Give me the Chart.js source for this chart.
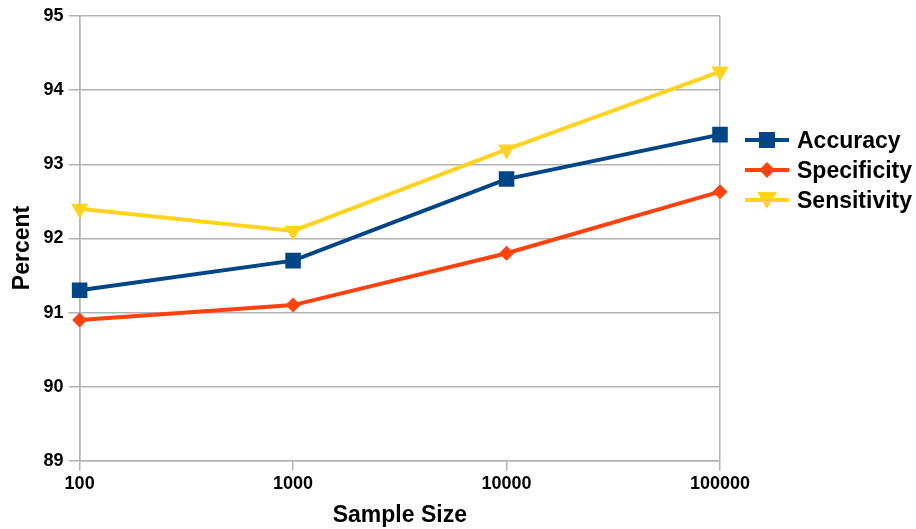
<!DOCTYPE html>
<html lang="en">
<head>
    <meta charset="UTF-8">
    <script src="https://cdn.jsdelivr.net/npm/chart.js"></script>
    <title>Sample Size</title>
    <style>
        body { margin: 0; background: #fff; }
        #wrap { position: relative; width: 916px; height: 529px; }
        #legend { position: absolute; left: 745px; top: 125px; font: bold 23px "Liberation Sans", Arial, sans-serif; color: #000; }
        #legend div { display: flex; align-items: center; height: 30px; }
        #legend svg { margin-right: 8px; }
    </style>
</head>
<body>
    <div id="wrap">
        <canvas id="chart"></canvas>
        <div id="legend"></div>
    </div>
    <script>
        // Datos
        const sampleSizes = ['100', '1000', '10000', '100000'];
        const accuracy = [91.3, 91.7, 92.8, 93.4];
        const specificity = [90.9, 91.1, 91.8, 92.63];
        const sensitivity = [92.4, 92.1, 93.2, 94.25];
        const seriesNames = ['Accuracy', 'Specificity', 'Sensitivity'];
        const seriesColors = ['#004586', '#ff420e', '#ffd320'];

        const gridColor = '#b3b3b3';
        const font = 'Liberation Sans';

        const styles = [
            { pointStyle: 'rect', pointRadius: 11, rotation: 0 },
            { pointStyle: 'rectRot', pointRadius: 7.5, rotation: 0 },
            { pointStyle: 'triangle', pointRadius: 10, rotation: 180 }
        ];

        const datasets = [accuracy, specificity, sensitivity].map((values, i) => ({
            label: seriesNames[i],
            data: values,
            borderColor: seriesColors[i],
            backgroundColor: seriesColors[i],
            borderWidth: 4,
            pointStyle: styles[i].pointStyle,
            pointRadius: styles[i].pointRadius,
            pointRotation: styles[i].rotation,
            pointBorderWidth: 0,
            pointHoverRadius: styles[i].pointRadius,
            tension: 0
        }));

        new Chart(document.getElementById('chart'), {
            type: 'line',
            data: { labels: sampleSizes, datasets: datasets },
            options: {
                responsive: true,
                maintainAspectRatio: false,
                animation: false,
                layout: { padding: { left: 9, right: 196, top: 16, bottom: 0 } },
                plugins: { legend: { display: false }, tooltip: { enabled: false } },
                scales: {
                    x: {
                        offset: false,
                        grid: {
                            color: ctx => (ctx.index === 0 || ctx.index === sampleSizes.length - 1) ? gridColor : 'transparent',
                            tickColor: gridColor,
                            tickLength: 10,
                            lineWidth: 1.5
                        },
                        border: { color: gridColor, width: 1.5 },
                        ticks: { color: '#000', padding: 2, maxRotation: 0, font: { family: font, size: 18, weight: 'bold' } },
                        title: { display: true, text: 'Sample Size', color: '#000', padding: { top: 5, bottom: 0 }, font: { family: font, size: 23, weight: 'bold' } }
                    },
                    y: {
                        min: 89,
                        max: 95,
                        ticks: { stepSize: 1, color: '#000', padding: 5, font: { family: font, size: 18, weight: 'bold' } },
                        grid: { color: gridColor, tickColor: gridColor, tickLength: 11, lineWidth: 1.5 },
                        border: { color: gridColor, width: 1.5 },
                        // espacios finales para bajar el titulo un poco, como en el original
                        title: { display: true, text: 'Percent\u00a0\u00a0\u00a0', color: '#000', padding: { top: 0, bottom: 2 }, font: { family: font, size: 23, weight: 'bold' } }
                    }
                }
            }
        });

        // Leyenda: linea con marcador
        const markers = [
            c => `<rect x="14" y="3" width="16" height="16" fill="${c}"/>`,
            c => `<polygon points="22,3 30,11 22,19 14,11" fill="${c}"/>`,
            c => `<polygon points="12,3 32,3 22,20" fill="${c}"/>`
        ];
        const legend = document.getElementById('legend');
        seriesNames.forEach((name, i) => {
            const row = document.createElement('div');
            row.innerHTML = `<svg width="44" height="22"><line x1="0" y1="11" x2="44" y2="11" stroke="${seriesColors[i]}" stroke-width="4"/>${markers[i](seriesColors[i])}</svg><span>${name}</span>`;
            legend.appendChild(row);
        });
    </script>
</body>
</html>
